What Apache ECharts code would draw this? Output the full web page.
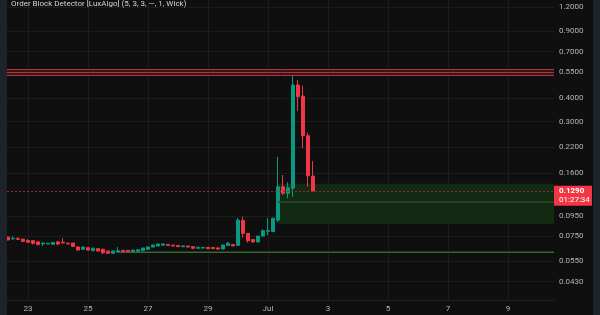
<!DOCTYPE html>
<html><head><meta charset="utf-8">
<script src="https://cdn.jsdelivr.net/npm/echarts@6/dist/echarts.min.js"></script>
<style>html,body{margin:0;padding:0;background:#0f0f0f}#c{width:600px;height:315px}</style>
</head><body><div id="c"></div>
<script>
const chartTitle = 'Order Block Detector [LuxAlgo] (5, 3, 3, \u2014, 1, Wick)';
const firstBarTime = '2024-06-22T08:00:00Z';
const barHours = 4;
const openP  = [0.0739,0.0722,0.0725,0.0721,0.0708,0.0707,0.0697,0.0680,0.0679,0.0677,
                0.0697,0.0695,0.0686,0.0687,0.0655,0.0637,0.0650,0.0626,0.0642,0.0637,
                0.0624,0.0607,0.0616,0.0629,0.0629,0.0620,0.0622,0.0626,0.0637,0.0655,
                0.0663,0.0670,0.0676,0.0670,0.0667,0.0657,0.0663,0.0658,0.0645,0.0647,
                0.0652,0.0652,0.0648,0.0639,0.0668,0.0675,0.0668,0.0903,0.0773,0.0717,
                0.0697,0.0748,0.0792,0.0789,0.0908,0.1360,0.1256,0.1334,0.4674,0.4089,
                0.2526,0.1549];
const closeP = [0.0713,0.0728,0.0718,0.0700,0.0694,0.0685,0.0674,0.0688,0.0685,0.0693,
                0.0679,0.0688,0.0680,0.0660,0.0631,0.0655,0.0631,0.0645,0.0624,0.0611,
                0.0607,0.0624,0.0626,0.0620,0.0620,0.0631,0.0633,0.0647,0.0655,0.0671,
                0.0679,0.0680,0.0667,0.0663,0.0658,0.0664,0.0655,0.0645,0.0653,0.0652,
                0.0642,0.0642,0.0639,0.0671,0.0686,0.0664,0.0908,0.0773,0.0707,0.0697,
                0.0748,0.0798,0.0800,0.0928,0.1360,0.1256,0.1344,0.4674,0.4055,0.2526,
                0.1554,0.1290];
const lowP   = [0.0711,0.0720,0.0716,0.0698,0.0687,0.0674,0.0672,0.0662,0.0677,0.0675,
                0.0669,0.0686,0.0678,0.0656,0.0629,0.0635,0.0629,0.0624,0.0621,0.0601,
                0.0605,0.0605,0.0611,0.0617,0.0618,0.0618,0.0620,0.0624,0.0635,0.0653,
                0.0661,0.0668,0.0665,0.0661,0.0656,0.0655,0.0653,0.0638,0.0643,0.0645,
                0.0640,0.0640,0.0637,0.0637,0.0665,0.0661,0.0665,0.0735,0.0690,0.0690,
                0.0694,0.0745,0.0757,0.0785,0.0886,0.1230,0.1181,0.1205,0.3409,0.2167,
                0.1360,0.1290];
const highP  = [0.0742,0.0745,0.0739,0.0723,0.0721,0.0713,0.0700,0.0690,0.0688,0.0695,
                0.0706,0.0730,0.0690,0.0690,0.0662,0.0657,0.0653,0.0648,0.0645,0.0642,
                0.0626,0.0626,0.0655,0.0631,0.0632,0.0633,0.0636,0.0650,0.0660,0.0673,
                0.0685,0.0683,0.0679,0.0672,0.0669,0.0666,0.0665,0.0660,0.0655,0.0654,
                0.0654,0.0655,0.0650,0.0675,0.0697,0.0680,0.0931,0.0946,0.0776,0.0721,
                0.0752,0.0812,0.0931,0.0935,0.1958,0.1568,0.1435,0.5277,0.4966,0.4636,
                0.2620,0.1858];
const xTickDates  = ['2024-06-23','2024-06-25','2024-06-27','2024-06-29','2024-07-01','2024-07-03','2024-07-05','2024-07-07','2024-07-09'];
const xTickLabels = ['23','25','27','29','Jul','3','5','7','9'];
const yTicks = [0.043,0.055,0.075,0.095,0.16,0.22,0.3,0.4,0.55,0.7,0.9,1.2];
const xRange = ['2024-06-22T07:12:00Z','2024-07-10T12:48:00Z'];
const yRange = [0.03444, 1.311];
const lastPrice = 0.1290;
const countdown = '01:27:34';
// order blocks: bearish (red) and bullish (green)
const obTop      = [0.5655, 0.1413, 0.0624];
const obBottom   = [0.5232, 0.0866, 0.0609];
const obStartBar = [null, 54, 22];   // null = starts before visible range
const obKind     = ['bear','bull','bull'];

const C_UP = '#089981', C_DN = '#f23645';
const FONT = 'Roboto';
const FS = 8;
const t0 = Date.parse(firstBarTime);
const barTimes = openP.map((_, i) => t0 + i * barHours * 3600e3);
const xMin = Date.parse(xRange[0]), xMax = Date.parse(xRange[1]);
const xTickVals = xTickDates.map(d => Date.parse(d + 'T00:00:00Z'));
const candles = openP.map((o, i) => [barTimes[i], o, closeP[i], lowP[i], highP[i]]);

const areaData = [], lineData = [];
obTop.forEach((top, i) => {
  const bot = obBottom[i];
  const xs = obStartBar[i] == null ? xMin : barTimes[obStartBar[i]];
  const bear = obKind[i] === 'bear';
  const thin = (top - bot) / bot < 0.05;
  areaData.push([{xAxis: xs, yAxis: top, itemStyle: {color: bear ? '#3a1517' : (thin ? '#1e3a1c' : '#112a11')}},
                 {xAxis: xMax, yAxis: bot}]);
  const mid = (top + bot) / 2;
  if (bear) {
    [top, mid, bot].forEach(v => lineData.push([{coord: [xs, v], lineStyle: {color: '#b0363d', width: 1, type: 'solid'}}, {coord: [xMax, v]}]));
  } else {
    lineData.push([{coord: [xs, mid], lineStyle: {color: thin ? '#3b6634' : '#2e4b2b', width: thin ? 1 : 1.5, type: 'solid'}}, {coord: [xMax, mid]}]);
  }
});
lineData.push([{coord: [xMin, lastPrice], lineStyle: {color: '#9c2a33', width: 1, type: [2, 2]}}, {coord: [xMax, lastPrice]}]);

const chart = echarts.init(document.getElementById('c'), null, {renderer: 'canvas'});
chart.setOption({
  animation: false,
  backgroundColor: '#0f0f0f',
  textStyle: {fontFamily: FONT},
  title: {text: chartTitle, left: 11, top: 0, padding: 0,
          textStyle: {color: '#d1d4dc', fontSize: FS, fontWeight: 'normal', fontFamily: FONT}},
  grid: {left: 7, right: 46, top: 0, bottom: 15},
  xAxis: {
    type: 'value', min: xMin, max: xMax, scale: true,
    axisLine: {show: true, lineStyle: {color: '#222222'}},
    axisTick: {show: false, customValues: xTickVals},
    splitLine: {show: true, lineStyle: {color: '#1c1c1c', width: 1}},
    axisLabel: {
      customValues: xTickVals,
      formatter: (v) => {
        const idx = xTickVals.indexOf(+v);
        return idx >= 0 ? xTickLabels[idx] : '';
      },
      color: '#b2b5be', fontSize: FS, margin: 5, fontFamily: FONT
    }
  },
  yAxis: {
    type: 'log', position: 'right', min: yRange[0], max: yRange[1],
    axisLine: {show: false},
    axisTick: {show: false, customValues: yTicks},
    splitLine: {show: true, lineStyle: {color: '#1c1c1c', width: 1}},
    axisLabel: {customValues: yTicks, formatter: v => Number(v).toFixed(4),
                color: '#b2b5be', fontSize: FS, margin: 5, fontFamily: FONT}
  },
  series: [
    {type: 'line', data: [], z: 1, silent: true,
     markArea: {silent: true, data: areaData},
     markLine: {silent: true, symbol: ['none', 'none'], label: {show: false}, data: lineData}},
    {type: 'candlestick', z: 3, data: candles, barWidth: 2.8,
     itemStyle: {color: C_UP, color0: C_DN, borderColor: C_UP, borderColor0: C_DN, borderWidth: 1}}
  ]
});

const py = chart.convertToPixel({yAxisIndex: 0}, lastPrice);
const px = chart.convertToPixel({xAxisIndex: 0}, xMax);
chart.setOption({
  graphic: [
    {type: 'rect', left: 0, top: 0, shape: {width: 7, height: 315}, style: {fill: '#1e222b'}, z: 100},
    {type: 'rect', left: 593, top: 0, shape: {width: 7, height: 315}, style: {fill: '#1e222b'}, z: 100},
    {type: 'group', x: px, y: py - 5.5, z: 100, children: [
      {type: 'rect', shape: {x: 0, y: 0, width: 38, height: 20}, style: {fill: C_DN}},
      {type: 'text', x: 5, y: 5.5, style: {text: lastPrice.toFixed(4), fill: '#ffffff', font: 'bold 8px Roboto', verticalAlign: 'middle'}},
      {type: 'text', x: 5, y: 14.5, style: {text: countdown, fill: '#ffffff', font: '8px Roboto', verticalAlign: 'middle'}}
    ]}
  ]
});
</script></body></html>
